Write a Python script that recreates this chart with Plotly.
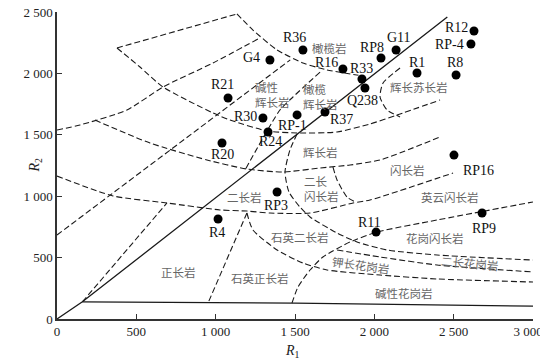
import plotly.graph_objects as go

# sample points (R1, R2)
names = ["G4", "R36", "R16", "R33", "RP8", "G11", "Q238", "R37", "RP-1", "R30", "R24",
         "R21", "R20", "RP3", "R4", "R11", "RP9", "RP16", "R1", "R8", "R12", "RP-4"]
r1 = [1342, 1550, 1802, 1922, 2042, 2137, 1941, 1689, 1513, 1298, 1330,
      1078, 1040, 1387, 1015, 2011, 2679, 2502, 2269, 2515, 2628, 2609]
r2 = [2109, 2191, 2036, 1954, 2125, 2191, 1881, 1686, 1662, 1637, 1523,
      1800, 1433, 1034, 814, 708, 863, 1335, 2003, 1987, 2345, 2239]

# solid boundaries
diag_x = [0, 160, 2460]
diag_y = [0, 140, 2460]
base_x = [160, 1500, 3000]
base_y = [140, 130, 105]

# dashed boundaries
v_x = [160, 693]
v_y = [140, 945]
a_x = [0, 353, 693, 1027, 1197, 1342, 1595, 1866, 1973, 2496]
a_y = [1164, 1002, 945, 888, 879, 863, 863, 945, 969, 1189]
b_x = [239, 586, 945, 1197, 1424, 1658, 1847, 2036, 2414]
b_y = [1620, 1433, 1295, 1221, 1197, 1230, 1254, 1295, 1482]
e_x = [378, 523, 668, 983, 1090, 1324, 1513, 1765, 1973, 2143, 2414]
e_y = [2207, 2052, 1889, 1678, 1621, 1531, 1515, 1523, 1588, 1661, 1783]
d_x = [378, 1134]
d_y = [2207, 2484]
f_x = [0, 145, 441, 668, 983, 1267]
f_y = [1539, 1580, 1702, 1889, 2085, 2280]
g_x = [1134, 1235, 1387, 1550, 1702, 1900]
g_y = [2484, 2353, 2191, 2085, 2028, 1985]
k_x = [0, 1470]
k_y = [684, 2110]
l_x = [1658, 1487, 1405, 1185]
l_y = [2011, 1808, 1702, 1213]
n_x = [1513, 1468, 1437, 1462, 1531, 1595, 1765, 1891, 2080, 2395, 3000]
n_y = [1507, 1376, 1197, 1034, 912, 831, 700, 627, 562, 521, 480]
o_x = [1739, 1765, 1828, 1891]
o_y = [1238, 1132, 993, 945]
p_x = [1481, 1519, 1595, 1676, 1847, 2017, 2395, 3000]
p_y = [130, 261, 399, 505, 627, 708, 806, 953]
q_x = [1765, 2036, 2395, 3000]
q_y = [562, 505, 440, 383]
r_x = [1197, 1235, 1387, 1550, 1702, 2036, 2395, 3000]
r_y = [863, 725, 562, 456, 399, 358, 326, 301]
s_x = [1197, 952]
s_y = [863, 130]
t_x = [2162, 2055, 2036, 2080, 2162]
t_y = [2044, 1922, 1808, 1702, 1645]

# rock field labels
rock_names = ["橄榄岩", "碱性<br>辉长岩", "橄榄<br>辉长岩", "辉长苏长岩", "辉长岩", "闪长岩",
              "二长岩", "二长<br>闪长岩", "英云闪长岩", "石英二长岩", "花岗闪长岩",
              "钾长花岗岩", "二长花岗岩", "正长岩", "石英正长岩", "碱性花岗岩"]
rock_x = [1720, 1361, 1658, 2282, 1658, 2212, 1179, 1664, 2477, 1531, 2382, 1916, 2603, 763, 1279, 2187]
rock_y = [2207, 1832, 1816, 1889, 1360, 1213, 993, 1059, 993, 668, 660, 440, 456, 383, 334, 212]
rock_angle = [0, 0, 0, 0, 0, 0, 0, 0, 0, 0, 0, 8, 5, 0, 0, 0]

# label offsets in pixels (dx, dy up)
label_shift = [(-18, 3), (-8, 12), (-16, 6), (0, 11), (-9, 11), (3, 12), (-2, -12), (17, -8),
               (-5, -11), (-17, 1), (2, -10), (-6, 13), (0, -11), (-1, -13), (-1, -13),
               (-7, 10), (2, -15), (25, -15), (0, 11), (-1, 13), (-17, 4), (-21, 0)]

SERIF = "Liberation Serif, Times New Roman, serif"
CJK = "Noto Sans CJK SC"
LINE = "#1a1a1a"
NB = "\u00a0"

fig = go.Figure()

for xs, ys in [(diag_x, diag_y), (base_x, base_y)]:
    fig.add_trace(go.Scatter(x=xs, y=ys, mode="lines", line=dict(color=LINE, width=1.3),
                             hoverinfo="skip", showlegend=False))

for xs, ys in [(v_x, v_y), (a_x, a_y), (b_x, b_y), (e_x, e_y), (d_x, d_y), (f_x, f_y),
               (g_x, g_y), (k_x, k_y), (l_x, l_y), (n_x, n_y), (o_x, o_y), (p_x, p_y),
               (q_x, q_y), (r_x, r_y), (s_x, s_y), (t_x, t_y)]:
    fig.add_trace(go.Scatter(x=xs, y=ys, mode="lines",
                             line=dict(color=LINE, width=1.1, dash="6px,3px", shape="spline",
                                       smoothing=0.6),
                             hoverinfo="skip", showlegend=False))

fig.add_trace(go.Scatter(x=r1, y=r2, mode="markers", text=names,
                         marker=dict(color="black", size=9), showlegend=False))

for name, x, y, (dx, dy) in zip(names, r1, r2, label_shift):
    fig.add_annotation(x=x, y=y, text=name, showarrow=False, xshift=dx, yshift=dy,
                       font=dict(family=SERIF, size=14, color="#111"))

for name, x, y, ang in zip(rock_names, rock_x, rock_y, rock_angle):
    fig.add_annotation(x=x, y=y, text=name, showarrow=False, textangle=ang,
                       align="left", font=dict(family=CJK, size=11.5, color="#666"))

# axis titles
fig.add_annotation(x=0.494, y=-0.107, xref="paper", yref="paper",
                   xanchor="center", yanchor="middle",
                   text="<i>R</i><sub>1</sub>", showarrow=False,
                   font=dict(family=SERIF, size=14, color="#222"))
fig.add_annotation(x=-0.046, y=0.5, xref="paper", yref="paper",
                   xanchor="center", yanchor="middle",
                   text="<i>R</i><sub>2</sub>", showarrow=False, textangle=-90,
                   font=dict(family=SERIF, size=14, color="#222"))

# page body has an 8px margin, so the figure is shrunk by that much
fig.update_layout(
    width=540, height=355,
    margin=dict(l=49, r=15, t=4, b=44),
    plot_bgcolor="white", paper_bgcolor="white",
    font=dict(family=SERIF, size=13, color="#222"),
)
fig.update_xaxes(
    range=[0, 3000], showgrid=False, zeroline=False, automargin=False,
    showline=True, linecolor="#333", linewidth=1.5,
    ticks="inside", ticklen=5, tickcolor="#333", ticklabeloverflow="allow",
    tickvals=[0, 500, 1000, 1500, 2000, 2500, 3000],
    # last label padded so it sits inside the page like the original
    ticktext=["0", "500", "1 000", "1 500", "2 000", "2 500", "3 000" + NB * 3],
)
fig.update_yaxes(
    range=[0, 2500], showgrid=False, zeroline=False, automargin=False,
    showline=True, linecolor="#333", linewidth=1.5,
    ticks="inside", ticklen=5, tickcolor="#333", ticklabeloverflow="allow",
    tickvals=[0, 500, 1000, 1500, 2000, 2500],
    ticktext=["0", "500", "1 000", "1 500", "2 000", "2 500"],
)

fig.write_html("out.html")
